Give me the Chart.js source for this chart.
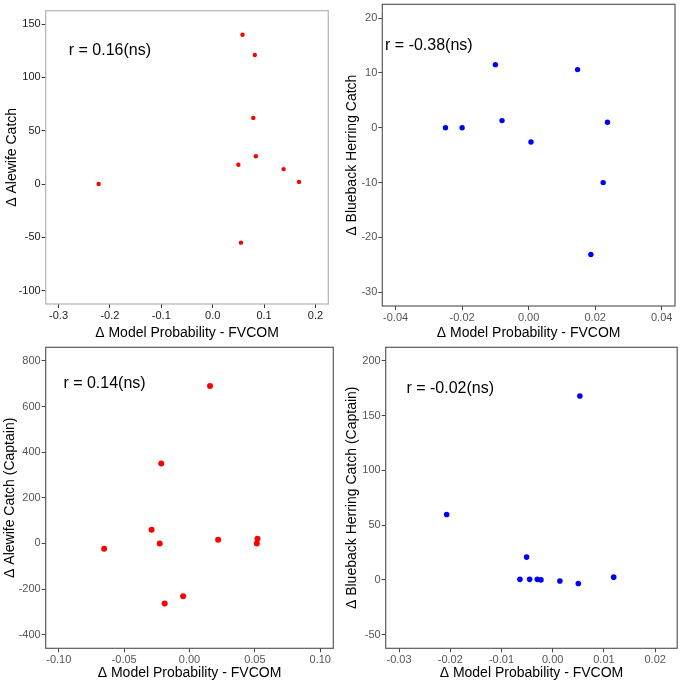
<!DOCTYPE html>
<html>
<head>
<meta charset="utf-8">
<script src="https://cdn.jsdelivr.net/npm/chart.js@4"></script>
<style>
  html, body { margin: 0; padding: 0; background: #ffffff; }
  #wrap { position: relative; width: 680px; height: 686px; background: #fff; }
  canvas { position: absolute; }
</style>
</head>
<body>
<div id="wrap">
  <canvas id="c1" width="340" height="340" style="left:0px;top:0px;width:340px;height:340px"></canvas>
  <canvas id="c2" width="340" height="340" style="left:340px;top:0px;width:340px;height:340px"></canvas>
  <canvas id="c3" width="340" height="346" style="left:0px;top:340px;width:340px;height:346px"></canvas>
  <canvas id="c4" width="340" height="346" style="left:340px;top:340px;width:340px;height:346px"></canvas>
</div>
<script>
// ---------- Data ----------
// Panel 1: Alewife catch vs model probability
const p1X = [0.058, 0.082, 0.079, 0.084, 0.050, 0.138, 0.168, -0.222, 0.055];
const p1Y = [140, 121, 62, 26, 18, 14, 2, 0, -55];
// Panel 2: Blueback herring catch
const p2X = [-0.025, -0.020, -0.010, -0.008, 0.0007, 0.0147, 0.0237, 0.0224, 0.0187];
const p2Y = [0, 0, 11.5, 1.3, -2.6, 10.6, 1.0, -10, -23.1];
// Panel 3: Alewife catch (Captain)
const p3X = [0.0157, -0.0216, -0.029, -0.0228, -0.0653, 0.0219, 0.052, 0.0515, -0.0049, -0.019];
const p3Y = [690, 350, 60, 0, -23, 16, 20, 0, -232, -264];
// Panel 4: Blueback herring catch (Captain)
const p4X = [-0.0207, -0.0051, -0.0064, -0.0045, -0.0030, -0.0023, 0.0014, 0.0050, 0.0053, 0.0119];
const p4Y = [59.8, 20.8, 0.5, 0.5, 0.5, 0, -1, -3.3, 168, 2.5];

// Tick values and labels
const p1XTicks = [-0.3, -0.2, -0.1, 0.0, 0.1, 0.2];
const p1XLabels = ["-0.3", "-0.2", "-0.1", "0.0", "0.1", "0.2"];
const p1YTicks = [-100, -50, 0, 50, 100, 150];
const p1YLabels = ["-100", "-50", "0", "50", "100", "150"];
const p2XTicks = [-0.04, -0.02, 0.0, 0.02, 0.04];
const p2XLabels = ["-0.04", "-0.02", "0.00", "0.02", "0.04"];
const p2YTicks = [-30, -20, -10, 0, 10, 20];
const p2YLabels = ["-30", "-20", "-10", "0", "10", "20"];
const p3XTicks = [-0.10, -0.05, 0.0, 0.05, 0.10];
const p3XLabels = ["-0.10", "-0.05", "0.00", "0.05", "0.10"];
const p3YTicks = [-400, -200, 0, 200, 400, 600, 800];
const p3YLabels = ["-400", "-200", "0", "200", "400", "600", "800"];
const p4XTicks = [-0.03, -0.02, -0.01, 0.0, 0.01, 0.02];
const p4XLabels = ["-0.03", "-0.02", "-0.01", "0.00", "0.01", "0.02"];
const p4YTicks = [-50, 0, 50, 100, 150, 200];
const p4YLabels = ["-50", "0", "50", "100", "150", "200"];

// Axis titles
const xTitle = "\u0394 Model Probability - FVCOM";
const yTitles = ["\u0394 Alewife Catch", "\u0394 Blueback Herring Catch",
                 "\u0394 Alewife Catch (Captain)", "\u0394 Blueback Herring Catch (Captain)"];

// Correlation annotations (data coordinates)
const annotText = ["r = 0.16(ns)", "r = -0.38(ns)", "r = 0.14(ns)", "r = -0.02(ns)"];
const annotX = [-0.2, -0.03, -0.065, -0.02];
const annotY = [125, 15, 700, 175];

// ---------- Rendering ----------
const FONT = "'Liberation Sans', Arial, sans-serif";

const boxPlugin = {
  id: 'panelBox',
  afterDatasetsDraw(chart, args, opts) {
    const {ctx, chartArea: a} = chart;
    ctx.save();
    ctx.strokeStyle = opts.color;
    ctx.lineWidth = opts.width;
    ctx.strokeRect(a.left, a.top, a.right - a.left, a.bottom - a.top);
    ctx.restore();
  }
};
const annotPlugin = {
  id: 'rLabel',
  afterDatasetsDraw(chart, args, opts) {
    const {ctx} = chart;
    const px = chart.scales.x.getPixelForValue(opts.x);
    const py = chart.scales.y.getPixelForValue(opts.y);
    ctx.save();
    ctx.font = "16px " + FONT;
    ctx.fillStyle = "#000";
    ctx.textAlign = "center";
    ctx.textBaseline = "middle";
    ctx.fillText(opts.text, px, py);
    ctx.restore();
  }
};

function makePanel(id, xs, ys, color, radius, xr, yr, xt, xl, yt, yl, cfg) {
  const pts = xs.map((x, i) => ({x: x, y: ys[i]}));
  new Chart(document.getElementById(id), {
    type: 'scatter',
    data: { datasets: [{ data: pts, backgroundColor: color, borderWidth: 0,
                         pointRadius: radius, pointHoverRadius: radius }] },
    options: {
      responsive: false, animation: false, devicePixelRatio: 1,
      layout: { padding: { left: 0, top: cfg.top, right: cfg.right, bottom: 0 } },
      plugins: {
        legend: { display: false }, tooltip: { enabled: false },
        panelBox: { color: cfg.border, width: 1.2 },
        rLabel: { x: cfg.ax, y: cfg.ay, text: cfg.atext }
      },
      scales: {
        x: {
          type: 'linear', min: xr[0], max: xr[1],
          afterBuildTicks: s => { s.ticks = xt.map(v => ({value: v})); },
          afterFit: s => { s.height = cfg.xh; s.paddingLeft = 0; s.paddingRight = 0; },
          ticks: { autoSkip: false, maxRotation: 0, padding: 1, color: cfg.tickText,
                   font: { family: FONT, size: 11 },
                   callback: (v, i) => xl[i] },
          grid: { drawOnChartArea: false, drawTicks: true, tickLength: 4,
                  tickColor: cfg.tickMark, tickWidth: 1 },
          border: { display: false },
          title: { display: true, text: xTitle, color: '#000',
                   font: { family: FONT, size: 14, lineHeight: 1 },
                   padding: { top: 0, bottom: cfg.xtPad } }
        },
        y: {
          type: 'linear', min: yr[0], max: yr[1],
          afterBuildTicks: s => { s.ticks = yt.map(v => ({value: v})); },
          afterFit: s => { s.width = cfg.yw; s.paddingTop = 0; s.paddingBottom = 0; },
          ticks: { autoSkip: false, padding: 1, color: cfg.tickText,
                   font: { family: FONT, size: 11 },
                   callback: (v, i) => yl[i] },
          grid: { drawOnChartArea: false, drawTicks: true, tickLength: 4,
                  tickColor: cfg.tickMark, tickWidth: 1 },
          border: { display: false },
          title: { display: true, text: cfg.ytitle, color: '#000',
                   font: { family: FONT, size: 14, lineHeight: 1 },
                   padding: { top: cfg.ytPad, bottom: 0 } }
        }
      }
    },
    plugins: [boxPlugin, annotPlugin]
  });
}

makePanel('c1', p1X, p1Y, '#ff0000', 2.2, [-0.325, 0.225], [-112.5, 162.5],
  p1XTicks, p1XLabels, p1YTicks, p1YLabels,
  { top: 10.7, right: 11.7, xh: 36, yw: 45.7, xtPad: 0, ytPad: 5,
    border: '#b3b3b3', tickText: '#1a1a1a', tickMark: '#333333',
    ytitle: yTitles[0], ax: annotX[0], ay: annotY[0], atext: annotText[0] });

makePanel('c2', p2X, p2Y, '#0000ff', 2.7, [-0.044, 0.044], [-32.5, 22.5],
  p2XTicks, p2XLabels, p2YTicks, p2YLabels,
  { top: 4.3, right: 5, xh: 34, yw: 42.3, xtPad: 0, ytPad: 5,
    border: '#5a5a5a', tickText: '#555555', tickMark: '#444444',
    ytitle: yTitles[1], ax: annotX[1], ay: annotY[1], atext: annotText[1] });

makePanel('c3', p3X, p3Y, '#ff0000', 3, [-0.11, 0.11], [-460, 860],
  p3XTicks, p3XLabels, p3YTicks, p3YLabels,
  { top: 7.3, right: 6.7, xh: 37.7, yw: 45.7, xtPad: 6, ytPad: 3,
    border: '#5a5a5a', tickText: '#555555', tickMark: '#444444',
    ytitle: yTitles[2], ax: annotX[2], ay: annotY[2], atext: annotText[2] });

makePanel('c4', p4X, p4Y, '#0000ff', 2.8, [-0.0326, 0.0243], [-62.5, 212.5],
  p4XTicks, p4XLabels, p4YTicks, p4YLabels,
  { top: 7.3, right: 2.3, xh: 37.7, yw: 45.7, xtPad: 6, ytPad: 5,
    border: '#5a5a5a', tickText: '#555555', tickMark: '#444444',
    ytitle: yTitles[3], ax: annotX[3], ay: annotY[3], atext: annotText[3] });
</script>
</body>
</html>
